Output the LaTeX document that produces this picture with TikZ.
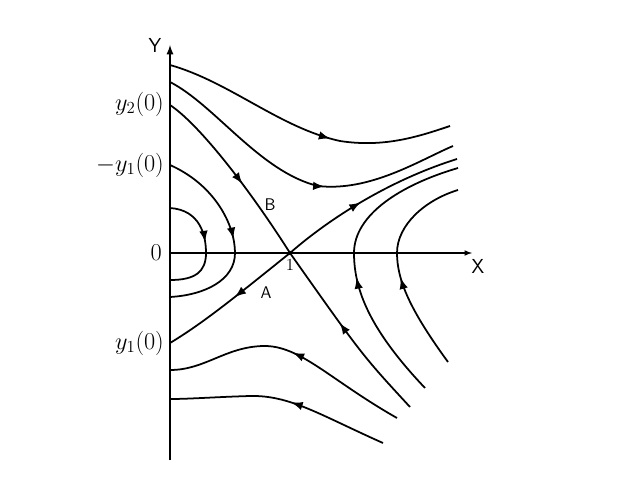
\documentclass[tikz,border=0pt]{standalone}
\usepackage{amsmath}
\usepackage{tikz}
\usetikzlibrary{positioning, arrows, decorations.markings}

\tikzset{
  orbit/.style={line width=1.5pt},
  flowmark/.style={postaction={decorate, decoration={markings,
      mark=at position #1 with {\arrow[scale=1.3]{latex}}}}},
  axis/.style={line width=1.2pt, -latex},
  axlabel/.style={font=\sffamily\LARGE},
  ptlabel/.style={font=\sffamily\Large},
  ylabel/.style={font=\huge, anchor=east}
}

\begin{document}
\begin{tikzpicture} [x=0.03cm, y=-0.03cm]

        \useasboundingbox (0,0) rectangle (628,480);

        % axes
        \coordinate (yfoot) at (170,460); \coordinate (ytop) at (170,45);
        \coordinate (orig) at (170,253); \coordinate (xend) at (472,253);
        \draw [axis, line width=1.7pt] (yfoot) -- (ytop);
        \draw [axis] (orig) -- (xend);
        \node (Y) [axlabel] at (155,45) {Y};
        \node (X) [axlabel] at (478,266) {X};
        \node (zero) [ylabel] at (166,253) {$0$};
        \node (y2) [ylabel] at (168,104) {$y_2(0)$};
        \node (my1) [ylabel] at (168,165) {$-y_1(0)$};
        \node (y1) [ylabel] at (168,343) {$y_1(0)$};

        % saddle point
        \node (s) [circle, fill, inner sep=1.3pt] at (290,253) {};
        \node (one) [below = 0pt of s, font=\Large] {$1$};

        % separatrices
        \coordinate (b0) at (170,105); \coordinate (b1) at (410,407);
        \coordinate (a0) at (170,343); \coordinate (a1) at (457,159);
        \draw [orbit, flowmark=0.56] (b0) .. controls (200,125) and (250,190) .. (s.center);
        \draw [orbit, flowmark=0.56] (b1) .. controls (362,355) .. (s.center);
        \draw [orbit, flowmark=0.47] (s.center) .. controls (240,293) and (205,322) .. (a0);
        \draw [orbit, flowmark=0.45] (s.center) .. controls (330,218) and (390,180) .. (a1);
        \node (B) [ptlabel] at (270,205) {B};
        \node (A) [ptlabel] at (266,293) {A};

        % upper orbits
        \draw [orbit, flowmark=0.59] (170,65) .. controls (230,82) and (280,128) .. (340,141)
         .. controls (385,148) and (420,136) .. (450,126);
        \draw [orbit, flowmark=0.58] (170,82) .. controls (215,105) and (260,172) .. (318,186)
         .. controls (370,192) and (420,160) .. (453,146);

        % left orbits
        \draw [orbit, flowmark=0.46] (170,208) .. controls (200,210) and (206,235) .. (206,253)
         .. controls (206,272) and (195,280) .. (170,280);
        \draw [orbit, flowmark=0.5] (170,165) .. controls (215,185) and (235,225) .. (235,253)
         .. controls (235,280) and (205,295) .. (170,297);

        % right orbits
        \draw [orbit, flowmark=0.44] (425,388) .. controls (370,330) and (354,290) .. (354,253)
         .. controls (354,215) and (400,185) .. (458,168);
        \draw [orbit, flowmark=0.45] (448,362) .. controls (410,310) and (397,280) .. (397,253)
         .. controls (397,225) and (425,200) .. (458,190);

        % lower orbits
        \draw [orbit, flowmark=0.49] (397,418) .. controls (330,380) and (300,345) .. (263,346)
         .. controls (225,347) and (205,370) .. (170,370);
        \draw [orbit, flowmark=0.45] (383,443) .. controls (320,415) and (290,395) .. (250,396)
         .. controls (215,397) and (190,399) .. (170,399);

    \end{tikzpicture}
\end{document}
